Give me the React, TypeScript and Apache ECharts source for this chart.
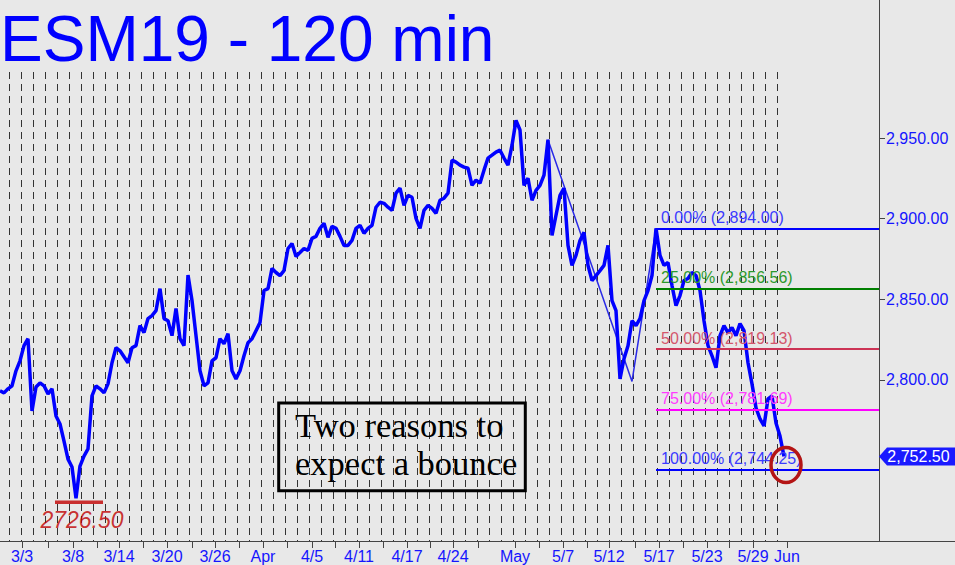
import React, { useEffect, useRef } from 'react';
import * as echarts from 'echarts';

// ---- data (x unit: 120-min bars, one sample every BAR_STEP bars) ----
const BAR_STEP = 4;
const prices = [
  2793.2, 2791.9, 2794.4, 2796.3, 2805.6, 2811.8, 2821.2, 2825.5, 2780.7, 2795.6,
  2798.1, 2796.3, 2791.3, 2794.4, 2777.6, 2772.6, 2762.0, 2750.8, 2745.9, 2726.5,
  2746.5, 2752.7, 2757.1, 2790.0, 2796.3, 2794.4, 2791.9, 2797.5, 2810.6, 2819.9,
  2818.0, 2814.3, 2810.6, 2819.9, 2821.2, 2833.6, 2829.3, 2838.0, 2839.8, 2842.9,
  2856.6, 2838.0, 2836.7, 2827.4, 2844.2, 2825.5, 2821.2, 2865.0, 2849.2, 2827.4,
  2805.6, 2796.3, 2798.1, 2811.8, 2813.7, 2825.5, 2822.4, 2828.6, 2805.6, 2800.6,
  2805.6, 2814.9, 2823.0, 2825.5, 2830.5, 2835.5, 2855.4, 2856.6, 2869.1, 2866.6,
  2864.7, 2867.8, 2881.5, 2884.6, 2876.6, 2879.0, 2881.5, 2880.3, 2887.8, 2889.0,
  2894.0, 2897.1, 2888.4, 2895.2, 2894.0, 2889.0, 2883.4, 2883.4, 2886.5, 2894.0,
  2895.9, 2890.9, 2894.0, 2895.9, 2907.1, 2910.2, 2909.5, 2907.1, 2905.2, 2915.8,
  2918.9, 2908.3, 2914.5, 2913.3, 2900.2, 2894.0, 2905.2, 2908.3, 2906.4, 2903.3,
  2911.4, 2912.7, 2915.8, 2936.3, 2935.1, 2933.2, 2932.0, 2931.3, 2920.7, 2923.9,
  2922.0, 2930.1, 2937.6, 2939.4, 2941.3, 2942.5, 2937.6, 2933.2, 2945.6, 2961.0,
  2955.0, 2920.7, 2925.1, 2911.4, 2917.6, 2920.7, 2927.0, 2949.0, 2889.6, 2902.1,
  2914.5, 2918.9, 2883.4, 2871.0, 2877.2, 2886.5, 2891.5, 2871.0, 2861.6, 2864.7,
  2867.8, 2871.0, 2883.4, 2849.2, 2842.9, 2800.6, 2813.1, 2821.2, 2836.7, 2833.6,
  2838.0, 2849.2, 2855.4, 2864.7, 2894.0, 2877.2, 2871.0, 2872.8, 2858.5, 2846.1,
  2852.3, 2861.6, 2862.9, 2866.6, 2864.7, 2855.4, 2836.7, 2821.2, 2814.9, 2807.5,
  2827.4, 2833.6, 2829.3, 2832.4, 2827.4, 2834.9, 2830.5, 2810.6, 2797.5, 2782.6,
  2775.7, 2771.4, 2788.2, 2790.0, 2773.2, 2765.1, 2752.5,
];

const dateLabelTexts = ['3/3', '3/8', '3/14', '3/20', '3/26', 'Apr', '4/5', '4/11', '4/17', '4/24', 'May', '5/7', '5/12', '5/17', '5/23', '5/29', 'Jun'];
const dateLabelBars = [22, 73, 119, 167, 215, 263, 312, 359, 407, 453, 515, 563, 609, 659, 707, 753, 787];
const minorTickBars = [48, 97, 143, 192, 239, 287, 335, 383, 430, 478, 539, 587, 635, 683, 729];
const xMaxBar = 879;

const yTickValues = [2800, 2850, 2900, 2950];
const yMin = 2700;
const yMax = 2991;

const fibPcts = ['0.00%', '25.00%', '50.00%', '75.00%', '100.00%'];
const fibLevels = [2894.0, 2856.56, 2819.13, 2781.69, 2744.25];
const fibLineColors = ['#0000ff', '#007f00', '#cc3355', '#ff00ff', '#0000ff'];
const fibTextColors = ['#3a3aff', '#2b992b', '#d4566c', '#ff3cff', '#3a3aff'];
const fibStartIndex = 164;

const abcIndex = [137, 158, 164];
const abcValues = [2949, 2799, 2894];

const lowIndex = 19;
const lowValue = 2726.5;
const lastPrice = 2752.5;

const titleText = 'ESM19 - 120 min';
const noteLines = ['Two reasons to', 'expect a bounce'];

const fmt = (v: number) =>
  v.toLocaleString('en-US', { minimumFractionDigits: 2, maximumFractionDigits: 2 });

const SANS = 'Liberation Sans';
const AXIS_BLUE = '#1515ff';

function buildOption() {
  const priceData = prices.map((v, i) => [i * BAR_STEP, v]);
  const abcData = abcIndex.map((idx, k) => [idx * BAR_STEP, abcValues[k]]);
  const fibStart = fibStartIndex * BAR_STEP;

  return {
    animation: false,
    backgroundColor: '#e8e8e8',
    grid: [
      { left: 0, right: 76, top: 72, bottom: 24 },
      { left: 0, width: 778, top: 72, bottom: 24 },
    ],
    xAxis: [
      {
        type: 'value',
        gridIndex: 0,
        min: 0,
        max: xMaxBar,
        splitLine: { show: false },
        axisLine: { show: true, onZero: false, lineStyle: { color: '#444', width: 1 } },
        axisTick: {
          show: true,
          customValues: [...dateLabelBars, ...minorTickBars].sort((a, b) => a - b),
          length: 7,
          lineStyle: { color: '#444' },
        },
        axisLabel: {
          show: true,
          customValues: dateLabelBars,
          formatter: (v: number) => {
            const k = dateLabelBars.indexOf(v);
            return k >= 0 ? dateLabelTexts[k] : '';
          },
          color: AXIS_BLUE,
          fontSize: 16,
          fontFamily: SANS,
          margin: 7,
        },
      },
      {
        type: 'value',
        gridIndex: 1,
        min: -9.7,
        max: 768.3,
        minInterval: 12,
        maxInterval: 12,
        axisLine: { show: false },
        axisTick: { show: false },
        axisLabel: { show: false },
        splitLine: {
          show: true,
          showMinLine: false,
          showMaxLine: false,
          lineStyle: { color: '#333', width: 1, type: [7, 5] },
        },
      },
    ],
    yAxis: [
      {
        type: 'value',
        gridIndex: 0,
        position: 'right',
        min: yMin,
        max: yMax,
        splitLine: { show: false },
        axisLine: { show: true, onZero: false, lineStyle: { color: '#444', width: 1 } },
        axisTick: { show: true, customValues: yTickValues, length: 6, lineStyle: { color: '#444' } },
        axisLabel: {
          show: true,
          customValues: yTickValues,
          formatter: (v: number) => fmt(v),
          color: AXIS_BLUE,
          fontSize: 16,
          fontFamily: SANS,
          margin: 7,
        },
      },
      { type: 'value', gridIndex: 1, min: 0, max: 1, show: false },
    ],
    series: [
      {
        type: 'line',
        name: 'abc',
        xAxisIndex: 0,
        yAxisIndex: 0,
        data: abcData,
        symbol: 'none',
        silent: true,
        z: 1,
        lineStyle: { color: '#2a2ae6', width: 1.5 },
        markLine: {
          silent: true,
          symbol: ['none', 'none'],
          data: fibLevels.map((lv, k) => [
            {
              coord: [fibStart, lv],
              lineStyle: { color: fibLineColors[k], width: 2, type: 'solid' },
              label: {
                show: true,
                position: 'insideStartTop',
                distance: [5, 3],
                formatter: `${fibPcts[k]} (${fmt(lv)})`,
                color: fibTextColors[k],
                fontSize: 16,
                fontFamily: SANS,
              },
            },
            { coord: [xMaxBar, lv] },
          ]),
        },
      },
      {
        type: 'line',
        name: 'ESM19',
        xAxisIndex: 0,
        yAxisIndex: 0,
        data: priceData,
        symbol: 'none',
        showSymbol: false,
        silent: true,
        z: 3,
        lineStyle: { color: '#0000ff', width: 3.5, join: 'bevel' },
        markPoint: {
          silent: true,
          symbol: 'path://M0,9L8,0L77,0L77,18L8,18Z',
          symbolSize: [77, 18],
          symbolKeepAspect: false,
          symbolOffset: [38.5, 0],
          itemStyle: { color: '#1a1aff' },
          label: {
            show: true,
            position: 'inside',
            offset: [1, 0],
            color: '#ffffff',
            fontSize: 16,
            fontFamily: SANS,
            formatter: () => fmt(lastPrice),
          },
          data: [{ coord: [xMaxBar, lastPrice], value: lastPrice }],
        },
      },
      {
        type: 'scatter',
        name: 'low',
        xAxisIndex: 0,
        yAxisIndex: 0,
        data: [[lowIndex * BAR_STEP, lowValue]],
        symbol: 'rect',
        symbolSize: [48, 3.5],
        symbolOffset: [3, 4],
        silent: true,
        z: 4,
        itemStyle: { color: '#c00000' },
        label: {
          show: true,
          position: 'bottom',
          distance: 4,
          offset: [3, 0],
          formatter: () => lowValue.toFixed(2),
          fontStyle: 'italic',
          fontSize: 23,
          fontFamily: SANS,
          color: '#c00000',
        },
      },
    ],
    graphic: [
      {
        type: 'text',
        x: 0,
        y: 39,
        silent: true,
        style: {
          text: titleText,
          fontSize: 64,
          fontFamily: SANS,
          fill: '#0000ff',
          align: 'left',
          verticalAlign: 'middle',
        },
      },
      {
        type: 'line',
        silent: true,
        shape: { x1: 879.5, y1: 0, x2: 879.5, y2: 72 },
        style: { stroke: '#444', lineWidth: 1 },
      },
      {
        type: 'line',
        silent: true,
        shape: { x1: 879, y1: 541.5, x2: 955, y2: 541.5 },
        style: { stroke: '#444', lineWidth: 1 },
      },
      {
        type: 'rect',
        silent: true,
        shape: { x: 278.7, y: 403, width: 246.6, height: 87.8 },
        style: { fill: 'none', stroke: '#000', lineWidth: 3 },
        z: 10,
      },
      {
        type: 'text',
        x: 295,
        y: 425,
        silent: true,
        z: 10,
        style: {
          text: noteLines[0],
          fontSize: 34.5,
          fontFamily: 'Liberation Serif',
          fill: '#000',
          align: 'left',
          verticalAlign: 'middle',
        },
      },
      {
        type: 'text',
        x: 295,
        y: 463,
        silent: true,
        z: 10,
        style: {
          text: noteLines[1],
          fontSize: 34.5,
          fontFamily: 'Liberation Serif',
          fill: '#000',
          align: 'left',
          verticalAlign: 'middle',
        },
      },
      {
        type: 'ellipse',
        silent: true,
        z: 10,
        shape: { cx: 786, cy: 465, rx: 15, ry: 17.5 },
        style: { fill: 'none', stroke: '#b41414', lineWidth: 3.5 },
      },
    ],
  };
}

export default function App() {
  const ref = useRef<HTMLDivElement>(null);
  useEffect(() => {
    if (!ref.current) return;
    const chart = echarts.init(ref.current, undefined, { renderer: 'svg' });
    chart.setOption(buildOption() as any);
    return () => chart.dispose();
  }, []);
  return (
    <div
      ref={ref}
      style={{ position: 'fixed', left: 0, top: 0, width: 955, height: 565 }}
    />
  );
}
